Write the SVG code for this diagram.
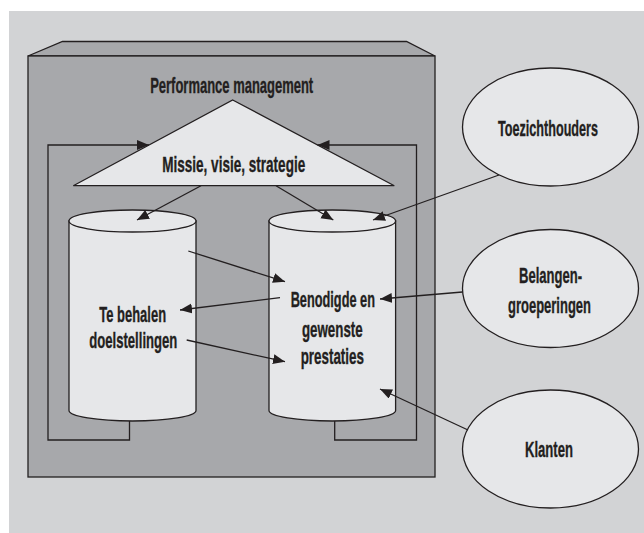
<svg xmlns="http://www.w3.org/2000/svg" width="644" height="533" viewBox="0 0 644 533">
  <defs>
    <marker id="arrow" markerUnits="userSpaceOnUse" markerWidth="13" markerHeight="11" refX="12" refY="5" orient="auto">
      <path d="M0,0 L12,5 L0,10 z" fill="#231f20"/>
    </marker>
    <style>
      .shape { fill: #e6e7e9; stroke: #231f20; stroke-width: 1.3; }
      .box { fill: #a7a8ab; stroke: #231f20; stroke-width: 1.3; }
      .conn { fill: none; stroke: #231f20; stroke-width: 1.3; marker-end: url(#arrow); }
      .loop { fill: none; stroke: #231f20; stroke-width: 1.3; }
      text { font-family: "Liberation Sans Narrow", "Liberation Sans", "DejaVu Sans Condensed", sans-serif; font-weight: bold; font-size: 22.5px; fill: #231f20; stroke: #231f20; stroke-width: 0.35; text-anchor: middle; }
    </style>
  </defs>

  <!-- background -->
  <rect x="0" y="0" width="644" height="533" fill="#ffffff"/>
  <rect x="9" y="11" width="635" height="522" fill="#d2d3d5"/>

  <!-- organisation block -->
  <g id="organisation">
    <polygon class="box" points="28,56 62.5,41.5 406.5,41.5 435,56"/>
    <rect class="box" x="28" y="56" width="407" height="421"/>
    <text x="231.7" y="92.7" textLength="163" lengthAdjust="spacingAndGlyphs">Performance management</text>
  </g>

  <!-- mission triangle -->
  <g id="missie">
    <polygon class="shape" points="232.7,100 394.3,185.7 73.3,185.7"/>
    <text x="233.7" y="172" textLength="143" lengthAdjust="spacingAndGlyphs">Missie, visie, strategie</text>
  </g>

  <!-- left cylinder -->
  <g id="doelstellingen">
    <path class="shape" d="M69,221 V410.5 A63.5,10.5 0 0 0 196,410.5 V221 Z"/>
    <ellipse class="shape" cx="132.5" cy="221" rx="63.5" ry="11"/>
    <text x="132.7" y="321.7" textLength="66.7" lengthAdjust="spacingAndGlyphs">Te behalen</text>
    <text x="133.3" y="348.3" textLength="88" lengthAdjust="spacingAndGlyphs">doelstellingen</text>
  </g>

  <!-- right cylinder -->
  <g id="prestaties">
    <path class="shape" d="M269,221 V410.5 A63.3,10.5 0 0 0 395.6,410.5 V221 Z"/>
    <ellipse class="shape" cx="332.3" cy="221" rx="63.3" ry="11"/>
    <text x="332.8" y="307.3" textLength="84.3" lengthAdjust="spacingAndGlyphs">Benodigde en</text>
    <text x="332.3" y="336.7" textLength="60.7" lengthAdjust="spacingAndGlyphs">gewenste</text>
    <text x="332.3" y="364" textLength="63.3" lengthAdjust="spacingAndGlyphs">prestaties</text>
  </g>

  <!-- stakeholders -->
  <g id="toezichthouders">
    <ellipse class="shape" cx="550.5" cy="127" rx="88" ry="59"/>
    <text x="548" y="136" textLength="100" lengthAdjust="spacingAndGlyphs">Toezichthouders</text>
  </g>
  <g id="belangengroeperingen">
    <ellipse class="shape" cx="550.5" cy="288.5" rx="88" ry="59"/>
    <text x="550.5" y="283.3" textLength="63" lengthAdjust="spacingAndGlyphs">Belangen-</text>
    <text x="549.5" y="312.7" textLength="83" lengthAdjust="spacingAndGlyphs">groeperingen</text>
  </g>
  <g id="klanten">
    <ellipse class="shape" cx="550.5" cy="449" rx="88" ry="59"/>
    <text x="549" y="457" textLength="48" lengthAdjust="spacingAndGlyphs">Klanten</text>
  </g>

  <!-- connectors -->
  <g id="connectors">
    <polyline class="loop" points="129.5,421 129.5,440 48,440 48,145 149,145" marker-end="url(#arrow)"/>
    <polyline class="loop" points="334.7,421 334.7,440 416.5,440 416.5,145 317.5,145" marker-end="url(#arrow)"/>
    <line class="conn" x1="201" y1="185.7" x2="137" y2="220"/>
    <line class="conn" x1="276" y1="185.7" x2="333.3" y2="220"/>
    <line class="conn" x1="188.3" y1="251" x2="285" y2="281.7"/>
    <line class="conn" x1="280" y1="297.7" x2="180" y2="310"/>
    <line class="conn" x1="186.7" y1="340" x2="285" y2="361.7"/>
    <line class="conn" x1="499" y1="175" x2="373" y2="220"/>
    <line class="conn" x1="462.5" y1="292" x2="380" y2="299"/>
    <line class="conn" x1="468" y1="430" x2="380" y2="389"/>
  </g>
</svg>
